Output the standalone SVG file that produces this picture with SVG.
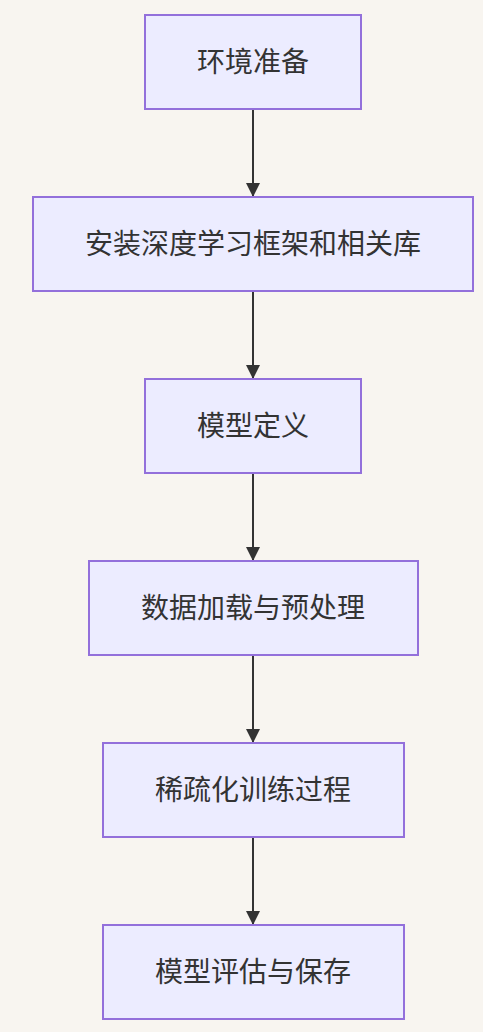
<svg xmlns="http://www.w3.org/2000/svg" width="483" height="1032" viewBox="0 0 483 1032">
<style>
.node rect{fill:#ECECFF;stroke:#9370DB;stroke-width:2}
.node text{font-family:"Noto Sans CJK SC","Liberation Sans",sans-serif;font-size:28px;fill:#333;text-anchor:middle;dominant-baseline:central}
.edge{stroke:#333;stroke-width:2;fill:none}
</style>
<defs>
<marker id="arr" viewBox="0 0 10 10" refX="10" refY="5" markerWidth="7" markerHeight="7" markerUnits="strokeWidth" orient="auto">
<path d="M0,0 L10,5 L0,10 z" fill="#333"/>
</marker>
</defs>
<rect width="483" height="1032" fill="#F8F5F0"/>
<g id="edges">
<line class="edge" x1="253" y1="109" x2="253" y2="197" marker-end="url(#arr)"/>
<line class="edge" x1="253" y1="291" x2="253" y2="379" marker-end="url(#arr)"/>
<line class="edge" x1="253" y1="473" x2="253" y2="561" marker-end="url(#arr)"/>
<line class="edge" x1="253" y1="655" x2="253" y2="743" marker-end="url(#arr)"/>
<line class="edge" x1="253" y1="837" x2="253" y2="925" marker-end="url(#arr)"/>
</g>
<g id="n1" class="node"><rect x="145" y="15" width="216" height="94"/><text x="253" y="60">环境准备</text></g>
<g id="n2" class="node"><rect x="33" y="197" width="440" height="94"/><text x="253" y="242">安装深度学习框架和相关库</text></g>
<g id="n3" class="node"><rect x="145" y="379" width="216" height="94"/><text x="253" y="424">模型定义</text></g>
<g id="n4" class="node"><rect x="89" y="561" width="329" height="94"/><text x="253" y="606">数据加载与预处理</text></g>
<g id="n5" class="node"><rect x="103" y="743" width="301" height="94"/><text x="253" y="788">稀疏化训练过程</text></g>
<g id="n6" class="node"><rect x="103" y="925" width="301" height="94"/><text x="253" y="970">模型评估与保存</text></g>
</svg>
